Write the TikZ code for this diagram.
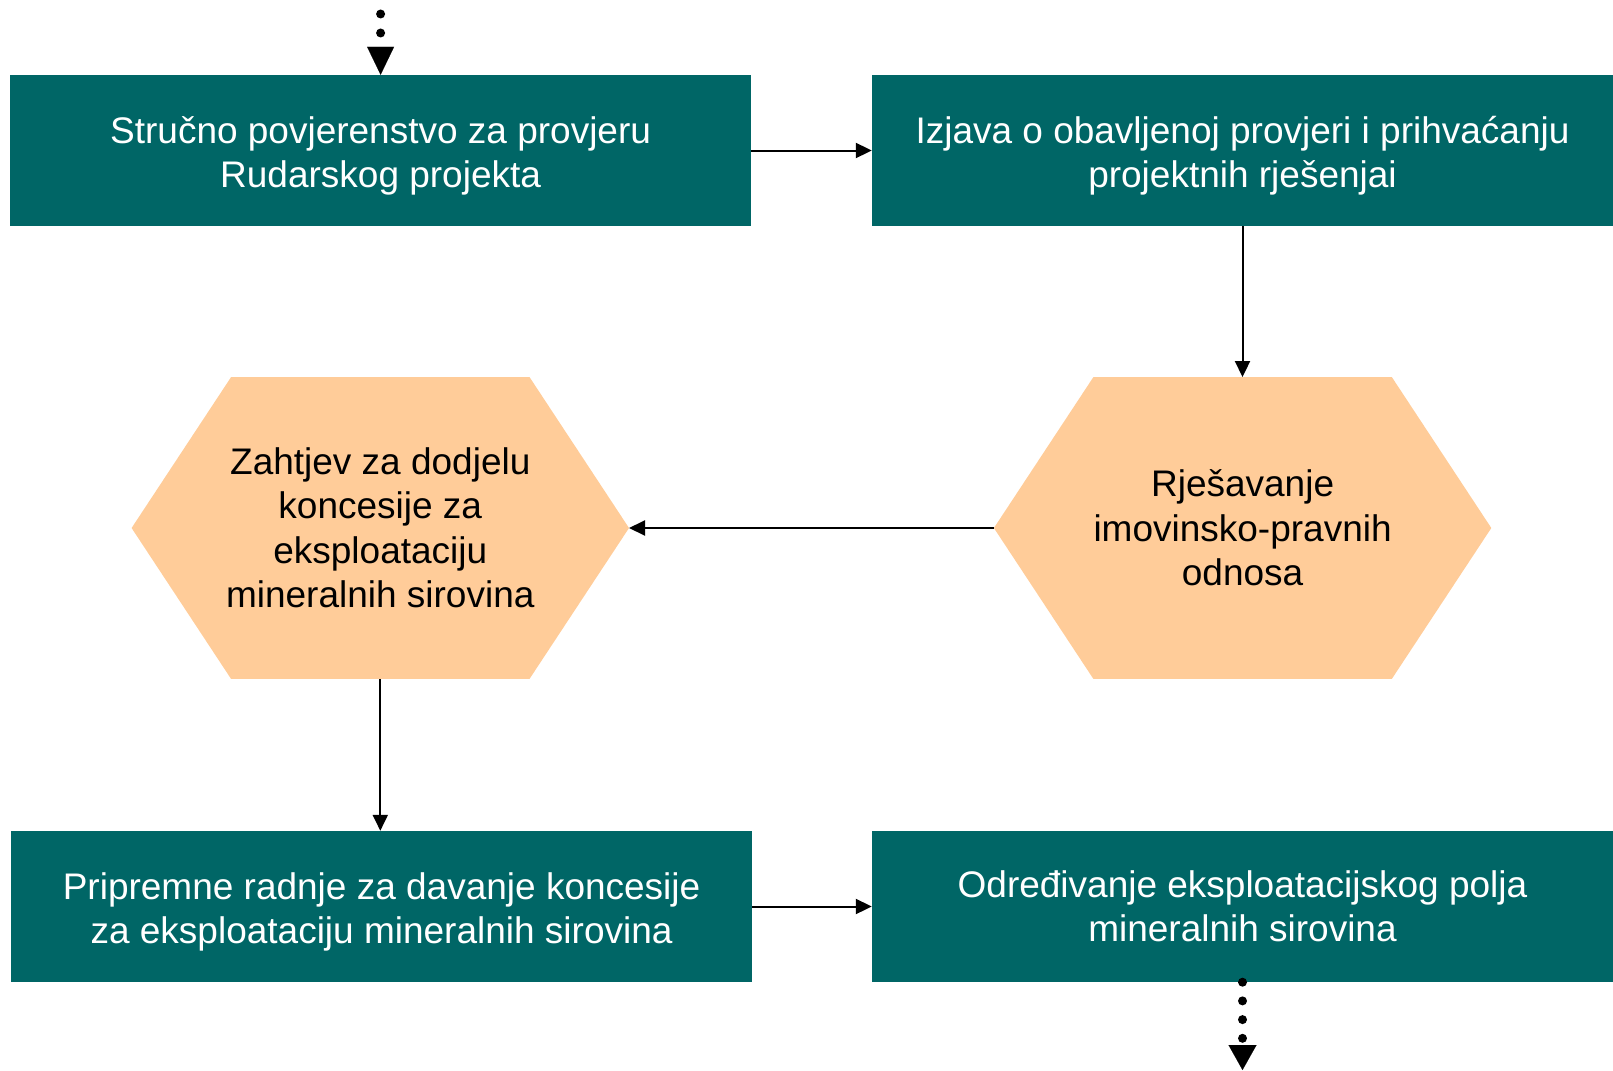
\documentclass[tikz,border=0pt]{standalone}
\usepackage{fontspec}
\setmainfont{Liberation Sans}
\usetikzlibrary{arrows.meta,backgrounds,calc}
\definecolor{boxteal}{RGB}{0,102,102}
\definecolor{hexfill}{RGB}{255,204,153}
\begin{document}
\begin{tikzpicture}[x=1pt,y=-1pt,
  box/.style={rectangle, fill=boxteal, minimum width=741pt, minimum height=151pt, inner sep=0pt,
    text=white, align=center, font=\fontsize{37}{44.5}\selectfont},
  hex/.style={rectangle, minimum width=497pt, minimum height=301.5pt, inner sep=0pt,
    text=black, align=center, font=\fontsize{37}{44.5}\selectfont},
  arr/.style={-{Triangle[length=16pt,width=15pt]}, line width=2pt},
  dotarr/.style={line width=9pt, line cap=round, dash pattern=on 0pt off 19pt,
    -{Triangle[length=28pt,width=27pt,line width=0.1pt]}},
  dotarrb/.style={line width=9pt, line cap=round, dash pattern=on 0pt off 18.7pt,
    -{Triangle[length=25pt,width=28pt,line width=0.1pt]}}
]
\useasboundingbox (0,0) rectangle (1613,1070);

\newcommand\myup{\rule{0pt}{38pt}}
\newcommand\mydown{\rule[-12.4pt]{0pt}{0pt}}
\node[box] (b1) at (380.6,150.5) {\myup Stručno povjerenstvo za provjeru\\Rudarskog projekta};
\node[box] (b2) at (1242.5,150.5) {\myup Izjava o obavljenoj provjeri i prihvaćanju\\projektnih rješenjai};
\node[hex] (h2) at (1242.6,528) {Rješavanje\\imovinsko-pravnih\\odnosa};
\node[hex] (h1) at (380.3,528) {Zahtjev za dodjelu\\koncesije za\\eksploataciju\\mineralnih sirovina};
\node[box] (b3) at (381.6,906.5) {\myup Pripremne radnje za davanje koncesije\\za eksploataciju mineralnih sirovina};
\node[box] (b4) at (1242.5,906.5) {\myup Određivanje eksploatacijskog polja\\mineralnih sirovina\mydown};

\begin{scope}[on background layer]
  \foreach \h in {h1,h2}{
    \fill[hexfill] (\h.west) -- ($(\h.north west)+(99.5,0)$) -- ($(\h.north east)+(-99.5,0)$)
      -- (\h.east) -- ($(\h.south east)+(-99.5,0)$) -- ($(\h.south west)+(99.5,0)$) -- cycle;
  }
\end{scope}

\draw[arr] (b1.east) -- (b2.west);
\draw[arr] (b2.south) -- (b2.south |- h2.north);
\draw[arr] (h2.west) -- (h1.east);
\draw[arr] (h1.south) -- (h1.south |- b3.north);
\draw[arr] (b3.east) -- (b4.west);

\coordinate (topstart) at (380.6,14);
\coordinate (botend) at (1242.5,1070);
\draw[dotarr] (topstart) -- (b1.north);
\draw[dotarrb] (b4.south) -- (botend);
\end{tikzpicture}
\end{document}
